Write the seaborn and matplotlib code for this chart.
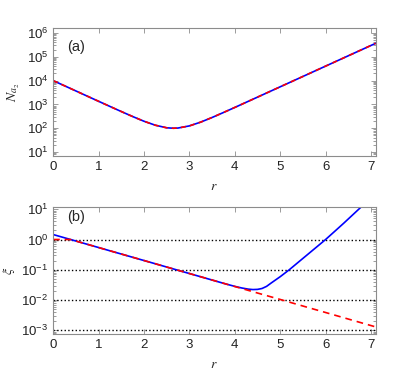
import numpy as np
import pandas as pd
import seaborn as sns
import matplotlib
matplotlib.use("Agg")
import matplotlib.pyplot as plt
from matplotlib.ticker import LogLocator, NullFormatter

# panel (a): N_a2 vs r (both curves coincide)
r_a = [0, 0.25, 0.5, 0.75, 1.0, 1.25, 1.5, 1.75, 2.0, 2.25, 2.5, 2.65, 2.75,
       3.0, 3.25, 3.5, 3.75, 4.0, 4.25, 4.5, 4.75, 5.0, 5.25, 5.5, 5.75,
       6.0, 6.25, 6.5, 6.75, 7.0, 7.1]
N_a = [10020, 6080, 3690, 2236, 1358, 825, 504, 311, 197, 134, 104.5, 100, 102,
       125.5, 181, 283, 457, 747, 1229, 2024, 3335, 5499, 9063, 14940, 24640,
       40630, 66970, 110400, 182000, 300000, 366500]

# panel (b): xi vs r
r_blue = [0, 0.5, 1.0, 1.5, 2.0, 2.5, 3.0, 3.5, 3.8, 4.0, 4.15, 4.3, 4.4,
          4.5, 4.6, 4.7, 4.8, 5.0, 5.2, 5.4, 5.6, 5.8, 6.0, 6.2, 6.4, 6.6, 6.8]
xi_blue = [1.46, 0.891, 0.543, 0.331, 0.202, 0.123, 0.075, 0.0457, 0.0339,
           0.0282, 0.0250, 0.0228, 0.0221, 0.0224, 0.0240, 0.0282, 0.0363,
           0.0589, 0.1, 0.178, 0.316, 0.562, 1.0, 1.86, 3.47, 6.61, 12.6]
r_red = [0, 0.38, 0.5, 1.0, 1.5, 2.0, 2.5, 3.0, 3.5, 4.0, 4.5, 5.0, 5.5, 6.0,
         6.5, 7.1]
xi_red = [1.0, 1.0, 0.891, 0.543, 0.331, 0.202, 0.123, 0.075, 0.0457, 0.0279,
          0.0170, 0.0104, 0.00631, 0.00385, 0.00234, 0.00129]
ref_levels = [1, 0.1, 0.01, 0.001]

sns.set_style("ticks")
plt.rcParams['font.family'] = ['Liberation Sans', 'DejaVu Sans']
plt.rcParams['mathtext.fontset'] = 'stix'
plt.rcParams['axes.edgecolor'] = '#8c8c8c'
plt.rcParams['xtick.color'] = '#8c8c8c'
plt.rcParams['ytick.color'] = '#8c8c8c'
plt.rcParams['xtick.labelcolor'] = '#222222'
plt.rcParams['ytick.labelcolor'] = '#222222'

fig = plt.figure(figsize=(4.15, 3.78), dpi=100)
ax1 = fig.add_axes([0.128, 0.587, 0.777, 0.339])
ax2 = fig.add_axes([0.128, 0.116, 0.777, 0.336])

df_a = pd.DataFrame({"r": r_a, "N": N_a})
sns.lineplot(data=df_a, x="r", y="N", ax=ax1, color="blue", lw=1.2)
sns.lineplot(data=df_a, x="r", y="N", ax=ax1, color="red", lw=1.2)
ax1.lines[-1].set_dashes((3, 2.5))

for lv in ref_levels:
    ax2.axhline(lv, color="black", ls=":", lw=1.0)
df_b = pd.DataFrame({"r": r_blue, "xi": xi_blue})
df_r = pd.DataFrame({"r": r_red, "xi": xi_red})
sns.lineplot(data=df_b, x="r", y="xi", ax=ax2, color="blue", lw=1.2)
sns.lineplot(data=df_r, x="r", y="xi", ax=ax2, color="red", lw=1.2)
ax2.lines[-1].set_dashes((4, 3))

ax1.set_yscale("log")
ax1.set_ylim(10**0.83, 10**6.21)
ax2.set_yscale("log")
ax2.set_ylim(10**-3.13, 10**1.07)

for ax in (ax1, ax2):
    ax.set_xlim(0, 7.1)
    ax.set_xticks(range(8))
    ax.yaxis.set_minor_locator(LogLocator(base=10, subs=range(2, 10), numticks=20))
    ax.yaxis.set_minor_formatter(NullFormatter())
    ax.tick_params(which="both", direction="in", top=True, right=True,
                   labelsize=9.5, width=0.6)
    ax.tick_params(which="major", length=3.5)
    ax.tick_params(which="minor", length=2, left=True, right=True)
    for s in ax.spines.values():
        s.set_linewidth(0.8)
    ax.set_xlabel("$r$", fontsize=10, labelpad=4)

ax1.set_yticks([10**k for k in range(1, 7)])
ax2.set_yticks([10**k for k in range(-3, 2)])
ax1.set_ylabel("$N_{a_2}$", fontsize=10, labelpad=3)
ax2.set_ylabel(r"$\xi$", fontsize=10, labelpad=3)

ax1.text(0.042, 0.85, "(a)", transform=ax1.transAxes, fontsize=10.5, va="center")
ax2.text(0.042, 0.92, "(b)", transform=ax2.transAxes, fontsize=10.5, va="center")

plt.savefig("out.png", dpi=100)
